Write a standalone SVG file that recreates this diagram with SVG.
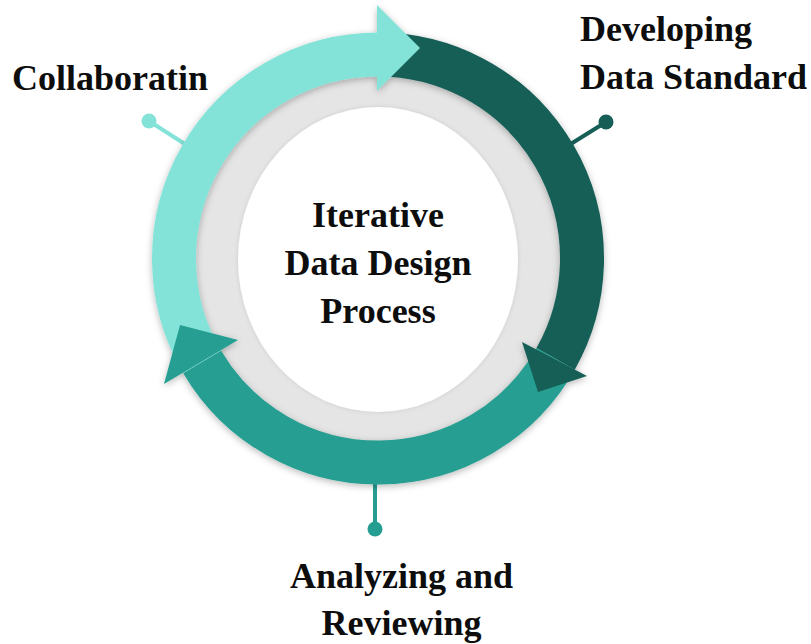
<svg xmlns="http://www.w3.org/2000/svg" width="811" height="644" viewBox="0 0 811 644">
  <defs>
    <filter id="shadow" x="-20%" y="-20%" width="140%" height="140%">
      <feDropShadow dx="0" dy="2" stdDeviation="3.5" flood-color="#000" flood-opacity="0.28"/>
    </filter>
    <filter id="soft" x="-20%" y="-20%" width="140%" height="140%">
      <feDropShadow dx="0" dy="0" stdDeviation="2" flood-color="#000" flood-opacity="0.12"/>
    </filter>
  </defs>
  <style>
    .label { font-family: "Liberation Serif", "Times New Roman", serif; font-weight: bold; font-size: 36px; fill: #0d0d0d; }
    .band { fill: none; stroke-width: 44; stroke-linecap: butt; }
    .conn { fill: none; stroke-width: 4; }
    .s-light { stroke: #84E3D8; }
    .s-dark { stroke: #165E56; }
    .s-teal { stroke: #259E91; }
    .f-light { fill: #84E3D8; }
    .f-dark { fill: #165E56; }
    .f-teal { fill: #259E91; }
  </style>
  <rect width="811" height="644" fill="#ffffff"/>

  <g id="connectors">
    <line class="conn s-light" x1="149" y1="121" x2="219" y2="166"/>
    <line class="conn s-dark" x1="606" y1="122" x2="537" y2="165"/>
    <line class="conn s-teal" x1="375" y1="480" x2="375" y2="529"/>
    <circle class="f-light" cx="149" cy="121" r="7.5"/>
    <circle class="f-dark" cx="606" cy="122" r="7.5"/>
    <circle class="f-teal" cx="375" cy="529" r="7.5"/>
  </g>

  <g id="center-disk">
    <circle cx="378" cy="258.5" r="192" fill="#E5E5E5"/>
    <ellipse cx="378" cy="259.5" rx="140" ry="152.5" fill="#ffffff" filter="url(#soft)"/>
  </g>

  <g id="ring" filter="url(#shadow)">
    <path class="band s-light" d="M 202.2 362 A 204 204 0 0 1 378 54.5"/>
    <path class="band s-dark" d="M 378 54.5 A 204 204 0 0 1 555.6 358.9"/>
    <path class="band s-teal" d="M 555.6 358.9 A 204 204 0 0 1 202.2 362"/>
    <polygon class="f-light" points="377,5 420,48 377,91"/>
    <polygon class="f-dark" points="522,342 587,376 538,392"/>
    <polygon class="f-teal" points="238,340 164,384 180,325"/>
  </g>

  <g id="node-center">
    <text class="label" x="378" y="227" text-anchor="middle">Iterative</text>
    <text class="label" x="378" y="275" text-anchor="middle">Data Design</text>
    <text class="label" x="378" y="323" text-anchor="middle">Process</text>
  </g>
  <g id="node-collaborating">
    <text class="label" x="12" y="90">Collaboratin</text>
  </g>
  <g id="node-developing">
    <text class="label" x="580" y="41">Developing</text>
    <text class="label" x="580" y="89">Data Standard</text>
  </g>
  <g id="node-analyzing">
    <text class="label" x="401.5" y="588" text-anchor="middle">Analyzing and</text>
    <text class="label" x="401.5" y="635" text-anchor="middle">Reviewing</text>
  </g>
</svg>
